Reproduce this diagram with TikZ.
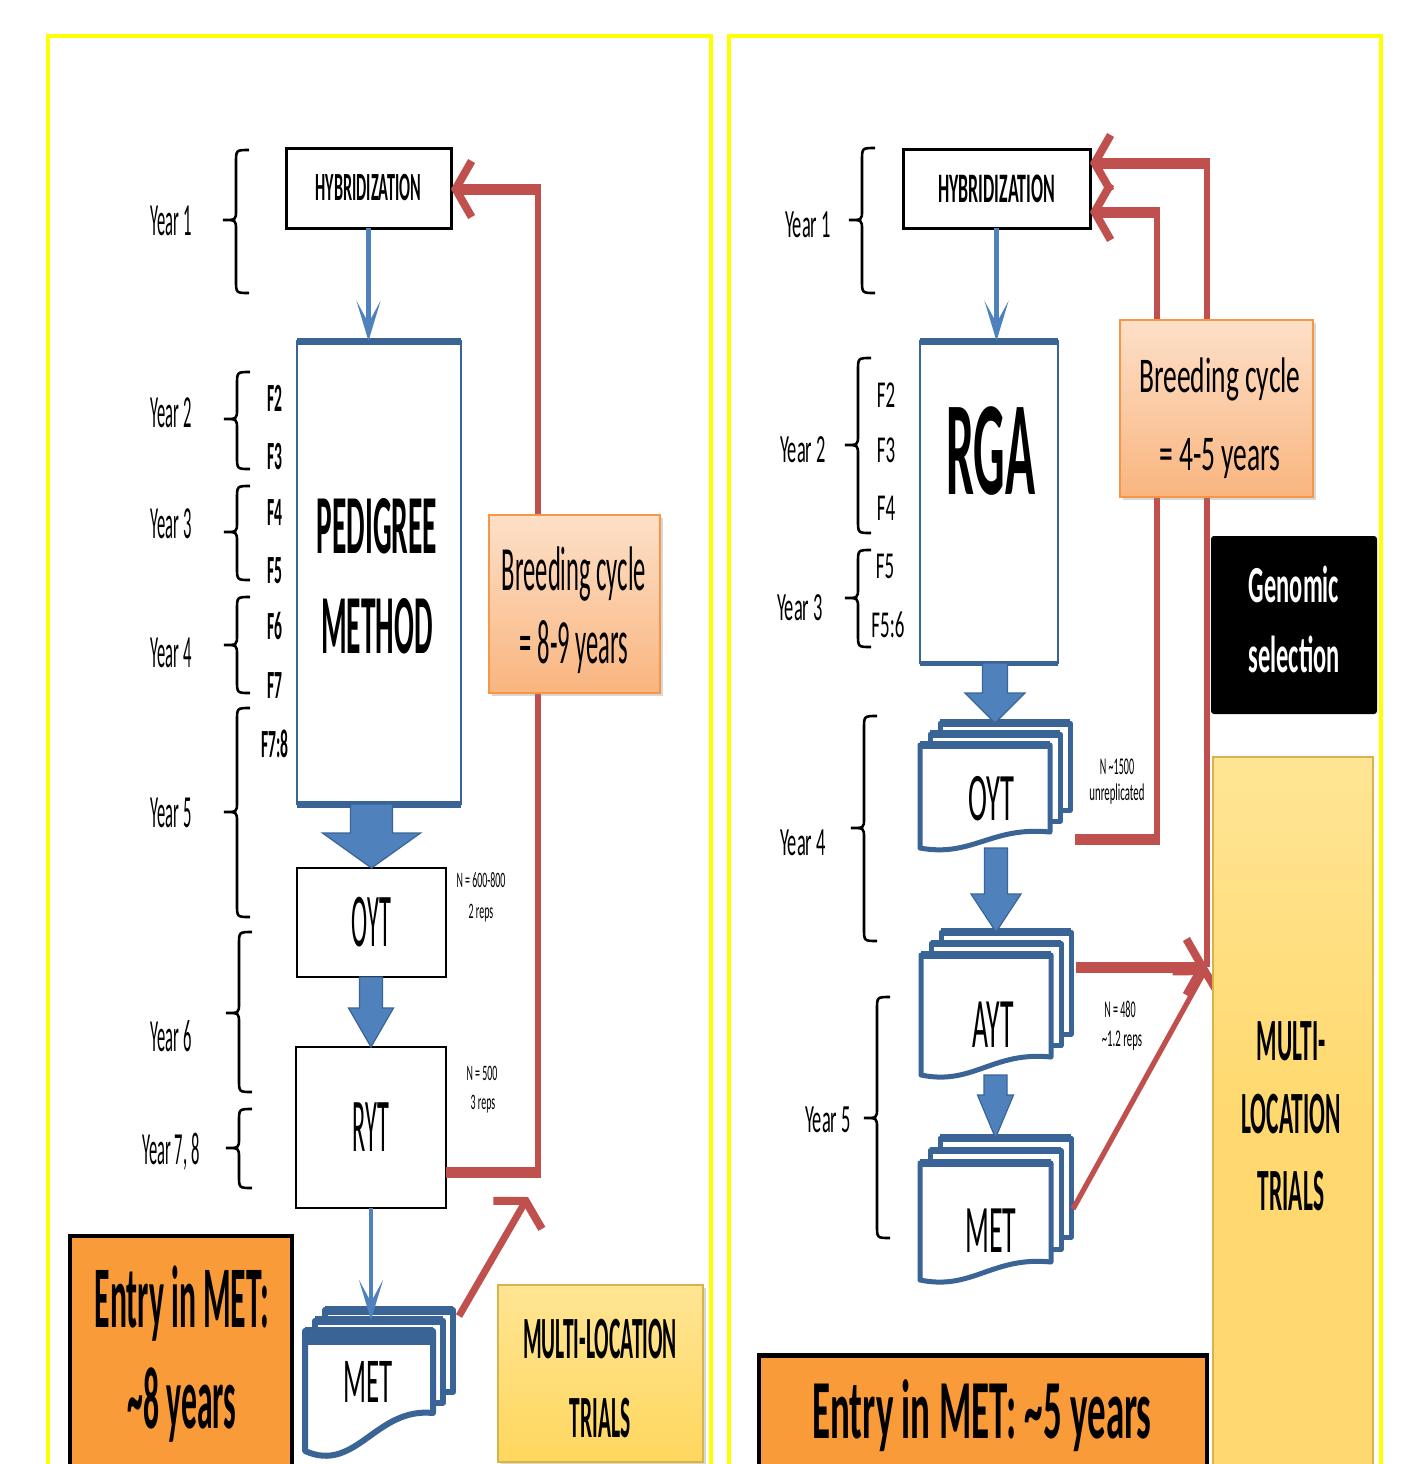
\documentclass[tikz,border=0pt]{standalone}
\usepackage{fontspec}
\usepackage{graphicx}
\setmainfont{Carlito}
\usetikzlibrary{arrows.meta,calc,shadows}
\definecolor{blueA}{HTML}{4F81BD}
\definecolor{blueB}{HTML}{3A6496}
\definecolor{redA}{HTML}{C0504D}
\definecolor{orgB}{HTML}{F79646}
\definecolor{peachT}{HTML}{FDE0C8}
\definecolor{peachB}{HTML}{F9B57F}
\definecolor{entryC}{HTML}{F99B38}
\definecolor{goldT}{HTML}{FFE594}
\definecolor{goldB}{HTML}{FFD75E}
\definecolor{goldE}{HTML}{D8B24A}
\definecolor{mltC}{HTML}{FFD96F}
\definecolor{frameY}{HTML}{FFFF00}
\newcommand\tx[3]{\scalebox{#1}[1]{\fontsize{#2pt}{#2pt}\selectfont #3}}
% stack of documents: name, L, T, R, Bright, dx, dy, line width, drop
\newcommand\docstack[9]{%
 \draw[docline, line width=#8] ({#2+2*#6},{#3-2*#7}) rectangle ({#4+2*#6},{#5-2*#7});
 \draw[blueB, line width={1.5*#8}] ({#2+2*#6},{#3-2*#7}) -- ({#4+2*#6},{#3-2*#7});
 \draw[docline, line width=#8] ({#2+#6},{#3-#7}) rectangle ({#4+#6},{#5-#7});
 \draw[blueB, line width={1.5*#8}] ({#2+#6},{#3-#7}) -- ({#4+#6},{#3-#7});
 \draw[docline, line width=#8] (#2,#3) -- (#4,#3) -- (#4,#5)
   .. controls ({#4-0.45*(#4-#2)},{#5-6}) and ({#2+0.4*(#4-#2)},{#5+1.6*#9}) .. (#2,{#5+#9}) -- cycle;
 \draw[blueB, line width={1.5*#8}] (#2,#3) -- (#4,#3);
 \node[inner sep=0pt, minimum width={(#4+2*#6-#2)*0.5}, minimum height={(#5+#9-#3+2*#7)*0.5}] (#1)
   at ({(#2+#4+2*#6)/2},{(#3-2*#7+#5+#9)/2}) {};
}
% block arrow: from, to, shaft half width, head half width, head length
\newcommand\blockarrow[5]{%
 \path[blockar] let \p1=(#1), \p2=(#2) in
  (\x2-#3,\y1) -- (\x2+#3,\y1) -- (\x2+#3,\y2+#5) -- (\x2+#4,\y2+#5) -- (\x2,\y2)
  -- (\x2-#4,\y2+#5) -- (\x2-#3,\y2+#5) -- cycle;
}
% brace: x, top, bottom, tip
\newcommand\ybrace[4]{%
 \draw[bracest] ({#1+13},#2) .. controls (#1,#2) .. (#1,{#2+13}) -- (#1,{#4-10})
  .. controls (#1,#4) .. ({#1-13},#4) .. controls (#1,#4) .. (#1,{#4+10})
  -- (#1,{#3-13}) .. controls (#1,#3) .. ({#1+13},#3);
}
\tikzset{
 every node/.style={inner sep=0pt, outer sep=0pt},
 lbl/.style={anchor=base},
 blackbox/.style={draw=black, line width=1.5pt, fill=white},
 bluebox/.style={draw=blueB, line width=1.3pt, fill=white},
 thinarrow/.style={draw=blueA, line width=2.2pt, -{Stealth[length=20pt,width=12pt,inset=11pt]}},
 redline/.style={draw=redA, line width=5.5pt},
 redthin/.style={draw=redA, line width=2.6pt},
 barb/.style={-{Straight Barb[length=8pt,width=28pt,line width=4pt]}},
 blockar/.style={fill=blueA, draw=blueB, line width=0.6pt},
 docline/.style={draw=blueB, fill=white, line join=round},
 bracest/.style={draw=black, line width=1.3pt},
 bcbox/.style={draw=orgB, line width=1.2pt, top color=peachT, bottom color=peachB,
   drop shadow={shadow xshift=1.5pt, shadow yshift=-1.5pt, opacity=0.3}},
 goldbox/.style={draw=goldE, line width=1pt, top color=goldT, bottom color=goldB,
   drop shadow={shadow xshift=1.5pt, shadow yshift=-1.5pt, opacity=0.3}},
 entrybox/.style={draw=black, line width=1.6pt, fill=entryC},
}
\begin{document}
\begin{tikzpicture}[x=0.5pt, y=-0.5pt]
\useasboundingbox (0,0) rectangle (1420,1464);
\fill[white] (0,0) rectangle (1420,1464);
% frames
\draw[frameY, line width=1.6pt] (48,1480) -- (48,36) -- (711,36) -- (711,1480);
\draw[frameY, line width=1.6pt] (729,1480) -- (729,36) -- (1381,36) -- (1381,1480);

%================ LEFT PANEL =================
\ybrace{236}{150}{293}{220}
\ybrace{237}{372}{469}{419}
\ybrace{237}{486}{580}{532}
\ybrace{237}{597}{693}{645}
\ybrace{237}{708}{917}{812}
\ybrace{239}{932}{1092}{1013}
\ybrace{239}{1109}{1188}{1148}
\node[lbl] (y1L) at (171,235) {\tx{0.36}{23}{Year 1}};
\node[lbl] (y2L) at (171,427) {\tx{0.36}{23}{Year 2}};
\node[lbl] (y3L) at (171,538) {\tx{0.36}{23}{Year 3}};
\node[lbl] (y4L) at (171,667) {\tx{0.36}{23}{Year 4}};
\node[lbl] (y5L) at (171,827) {\tx{0.36}{23}{Year 5}};
\node[lbl] (y6L) at (171,1051) {\tx{0.36}{23}{Year 6}};
\node[lbl] (y78L) at (171,1164) {\tx{0.36}{23}{Year 7, 8}};
\node[lbl] (f2L) at (275,411) {\tx{0.39}{20}{\bfseries F2}};
\node[lbl] (f3L) at (275,469) {\tx{0.39}{20}{\bfseries F3}};
\node[lbl] (f4L) at (275,525) {\tx{0.39}{20}{\bfseries F4}};
\node[lbl] (f5L) at (275,583) {\tx{0.39}{20}{\bfseries F5}};
\node[lbl] (f6L) at (275,639) {\tx{0.39}{20}{\bfseries F6}};
\node[lbl] (f7L) at (275,698) {\tx{0.39}{20}{\bfseries F7}};
\node[lbl] (f78L) at (275,757) {\tx{0.39}{20}{\bfseries F7:8}};

\coordinate (rL1) at (538,1172);
\coordinate (rL2) at (538,189);
\coordinate (rLd) at (528,1197);

\node[blackbox, minimum width=82.5pt, minimum height=40pt] (hybL) at (368.5,188) {\tx{0.405}{20}{\bfseries HYBRIDIZATION}};
\node[bluebox, minimum width=82pt, minimum height=231.5pt] (pedL) at (379,572.5) {};
\draw[blueB, line width=3.5pt] (pedL.north west) -- (pedL.north east);
\draw[blueB, line width=3.5pt] (pedL.south west) -- (pedL.south east);
\node[lbl] (pedT1) at (377,553) {\tx{0.35}{42}{\bfseries PEDIGREE}};
\node[lbl] (pedT2) at (377,653) {\tx{0.35}{42}{\bfseries METHOD}};
\node[blackbox, line width=1.3pt, minimum width=74.5pt, minimum height=54.5pt] (oytL) at (371.5,922.5) {\tx{0.32}{38}{OYT}};
\node[blackbox, line width=1.3pt, minimum width=75pt, minimum height=80.5pt] (rytL) at (371,1127.5) {\tx{0.32}{38}{RYT}};

\draw[redline] (rytL.east |- rL1) -- ([xshift=1.3pt]rL1);
\draw[redthin] (rL1) -- (rL2);
\draw[redline, barb] ([xshift=1.3pt]rL2) -- (hybL.east |- rL2);

\node[bcbox, minimum width=85.5pt, minimum height=89pt] (bcL) at (574.5,604) {};
\node[lbl] (bcL1) at (574,590) {\tx{0.39}{31.5}{Breeding cycle}};
\node[lbl] (bcL2) at (574,663) {\tx{0.39}{31.5}{= 8-9 years}};

\node[lbl] (nL1) at (481,887) {\tx{0.45}{11}{N = 600-800}};
\node[lbl] (nL2) at (481,918) {\tx{0.45}{11}{2 reps}};
\node[lbl] (nL3) at (482,1080) {\tx{0.45}{11}{N = 500}};
\node[lbl] (nL4) at (483,1109) {\tx{0.45}{11}{3 reps}};

\docstack{metL}{305}{1331}{433}{1413}{10}{10.5}{3pt}{38}
\draw[blueB, line width=9pt] (305,1336) -- (433,1336);
\node[lbl] (metLt) at (368,1402) {\tx{0.42}{32}{MET}};

\draw[thinarrow] (hybL.south) -- (hybL.south |- pedL.north);
\blockarrow{pedL.south}{oytL.north}{10.5pt}{24.5pt}{17.5pt}
\blockarrow{oytL.south}{rytL.north}{5.75pt}{11.25pt}{19.5pt}
\draw[thinarrow] (rytL.south) -- ([yshift=-5pt]rytL.south |- metL.north);
\draw[redA, line width=3.5pt, barb] ([xshift=3pt,yshift=-3pt]metL.north east) -- (rLd);

\node[entrybox, minimum width=111pt, minimum height=119.5pt] (entryL) at (181,1355.5) {};
\node[lbl] (entL1) at (182,1327) {\tx{0.36}{44}{\bfseries Entry in MET:}};
\node[lbl] (entL2) at (182,1428) {\tx{0.36}{44}{\bfseries \textasciitilde8 years}};

\node[goldbox, minimum width=102.5pt, minimum height=88.5pt] (mltL) at (600.5,1373.5) {};
\node[lbl] (mltL1) at (600,1358) {\tx{0.357}{30}{\bfseries MULTI-LOCATION}};
\node[lbl] (mltL2) at (600,1437) {\tx{0.357}{30}{\bfseries TRIALS}};

%================ RIGHT PANEL =================
\ybrace{862}{148}{293}{220}
\ybrace{858}{358}{533}{445}
\ybrace{858}{550}{647}{598}
\ybrace{864}{716}{941}{828}
\ybrace{877}{997}{1238}{1118}
\node[lbl] (y1R) at (808,237) {\tx{0.46}{20}{Year 1}};
\node[lbl] (y2R) at (803,462) {\tx{0.46}{20}{Year 2}};
\node[lbl] (y3R) at (800,620) {\tx{0.46}{20}{Year 3}};
\node[lbl] (y4R) at (803,855) {\tx{0.46}{20}{Year 4}};
\node[lbl] (y5R) at (828,1132) {\tx{0.46}{20}{Year 5}};
\node[lbl] (f2R) at (886,407) {\tx{0.5}{19}{F2}};
\node[lbl] (f3R) at (886,462) {\tx{0.5}{19}{F3}};
\node[lbl] (f4R) at (886,520) {\tx{0.5}{19}{F4}};
\node[lbl] (f5R) at (885,578) {\tx{0.5}{19}{F5}};
\node[lbl] (f56R) at (888,637) {\tx{0.5}{19}{F5:6}};

\node[blackbox, minimum width=93.5pt, minimum height=39.5pt] (hybR) at (996.5,188.5) {\tx{0.425}{21}{\bfseries HYBRIDIZATION}};
\node[bluebox, minimum width=69pt, minimum height=161pt] (rgaR) at (989,502) {};
\draw[blueB, line width=3.5pt] (rgaR.north west) -- (rgaR.north east);
\draw[blueB, line width=2.5pt] (rgaR.south west) -- (rgaR.south east);
\node[lbl] (rgaT) at (991,494) {\tx{0.37}{67}{\bfseries RGA}};

\docstack{oytR}{920}{745}{1050}{832}{10}{11}{2.5pt}{16}
\docstack{aytR}{921}{955}{1051}{1057}{10}{11.5}{2.5pt}{18}
\docstack{metR}{920}{1163}{1051}{1262}{10}{12.5}{2.5pt}{18}
\node[lbl] (oytRt) at (991,820) {\tx{0.42}{34}{OYT}};
\node[lbl] (aytRt) at (993,1047) {\tx{0.39}{35.5}{AYT}};
\node[lbl] (metRt) at (991,1252) {\tx{0.41}{34}{MET}};

\node[lbl] (nR1) at (1117,774) {\tx{0.42}{12}{N \textasciitilde1500}};
\node[lbl] (nR2) at (1117,800) {\tx{0.45}{12}{unreplicated}};
\node[lbl] (nR3) at (1120,1017) {\tx{0.42}{12}{N = 480}};
\node[lbl] (nR4) at (1122,1046) {\tx{0.45}{12}{\textasciitilde1.2 reps}};

\draw[thinarrow] (hybR.south) -- (hybR.south |- rgaR.north);
\blockarrow{rgaR.south}{oytR.north}{6.25pt}{15pt}{15pt}
\blockarrow{oytR.south}{aytR.north}{5.75pt}{12.5pt}{19pt}
\blockarrow{aytR.south}{metR.north}{5.75pt}{9pt}{21.5pt}

\coordinate (rR1) at (1157,839);
\coordinate (rR2) at (1157,212);
\coordinate (rO1) at (1207,967);
\coordinate (rO2) at (1207,163);
\draw[redline] ([xshift=2.5pt]oytR.east |- rR1) -- ([xshift=1.3pt]rR1);
\draw[redthin] (rR1) -- (rR2);
\draw[redline, barb] ([xshift=1.3pt]rR2) -- (hybR.east |- rR2);
\draw[redthin] (rO1) -- (rO2);
\draw[redline, barb] ([xshift=1.3pt]rO2) -- (hybR.east |- rO2);
\draw[redline, barb] ([xshift=2.5pt]aytR.east |- rO1) -- (rO1);
\draw[redA, line width=2.6pt, barb] ([xshift=1pt]metR.east) -- (rO1);

\node[bcbox, minimum width=96.5pt, minimum height=88.5pt] (bcR) at (1216.5,408.5) {};
\node[lbl] (bcR1) at (1220,392) {\tx{0.55}{25}{Breeding cycle}};
\node[lbl] (bcR2) at (1220,470) {\tx{0.55}{25}{= 4-5 years}};

\node[fill=black, rounded corners=1.5pt, minimum width=83pt, minimum height=89pt] (gsR) at (1294,625) {};
\node[lbl, text=white] (gsR1) at (1294,602) {\tx{0.47}{26}{\bfseries Genomic}};
\node[lbl, text=white] (gsR2) at (1294,672) {\tx{0.47}{26}{\bfseries selection}};

\node[draw=goldE, line width=1pt, top color=goldT, bottom color=mltC, middle color=mltC, minimum width=80pt, minimum height=359pt] (mltR) at (1293,1116) {};
\node[lbl] (mltR1) at (1291,1060) {\tx{0.39}{30}{\bfseries MULTI-}};
\node[lbl] (mltR2) at (1291,1133) {\tx{0.39}{30}{\bfseries LOCATION}};
\node[lbl] (mltR3) at (1291,1210) {\tx{0.39}{30}{\bfseries TRIALS}};

\node[entrybox, minimum width=224pt, minimum height=60pt] (entryR) at (983,1415) {};
\draw[black, line width=2.5pt] (entryR.north west) -- (entryR.north east);
\node[lbl] (entR) at (982,1438) {\tx{0.44}{42}{\bfseries Entry in MET: \textasciitilde5 years}};
\end{tikzpicture}
\end{document}
